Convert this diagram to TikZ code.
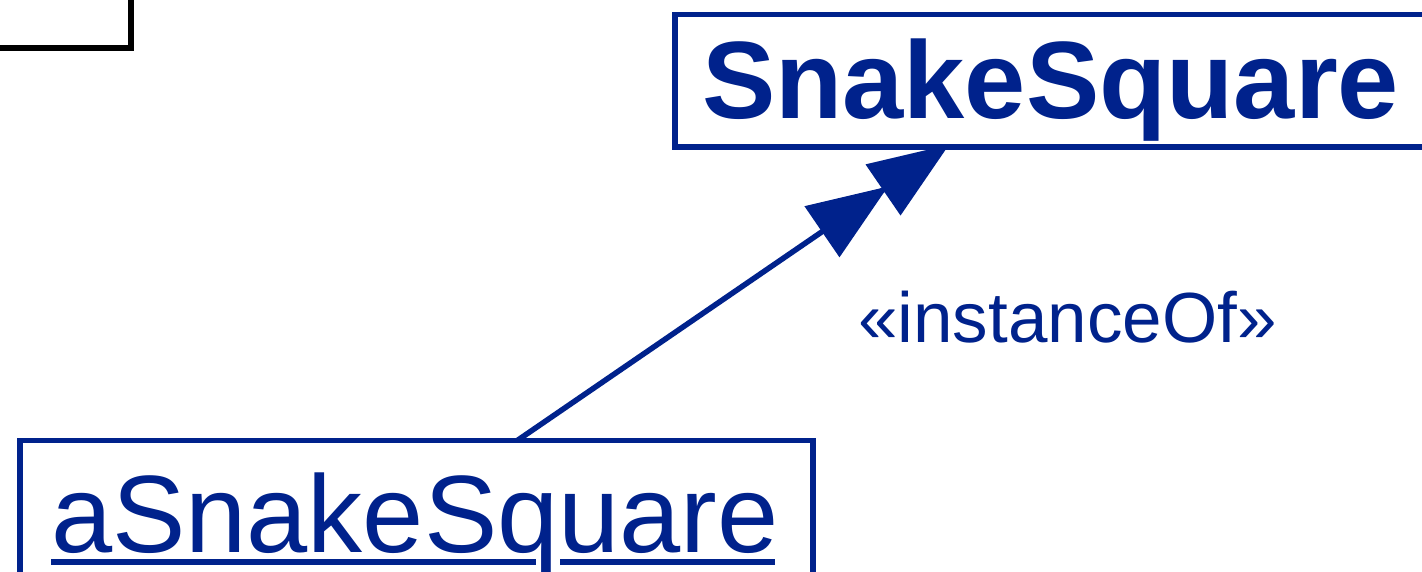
\documentclass[tikz,border=0pt]{standalone}
\usepackage{fontspec}
\setmainfont{Liberation Sans}
\usetikzlibrary{arrows.meta,calc}
\definecolor{umlblue}{RGB}{0,34,140}
\begin{document}
\begin{tikzpicture}[x=1pt,y=1pt,
  umlbox/.style={draw=umlblue, line width=5.5pt, text=umlblue, inner ysep=0pt, outer sep=0pt, align=left, anchor=base west},
  instarrow/.style={draw=umlblue, line width=5.5pt, shorten >=2pt, -{Triangle[length=80pt,width=62pt,line width=0pt,sep=-6pt]Triangle[length=80pt,width=62pt,line width=0pt,sep=-6pt]}},
  lbl/.style={text=umlblue, inner sep=0pt, anchor=base west, font=\fontsize{71}{80}\selectfont}]
\useasboundingbox (0,0) rectangle (1422,572);
\clip (0,0) rectangle (1422,572);
\fill[white] (0,0) rectangle (1422,572);
\node[draw=black, line width=6pt, outer sep=0pt, minimum width=300pt, minimum height=200pt, anchor=south east] (prev) at (130.8,524.2) {};
\node[umlbox, inner xsep=27pt, text width=770pt, text height=104.5pt, text depth=28pt, font=\fontsize{110}{120}\selectfont\bfseries] (cls) at (675,453) {SnakeSquare};
\node[umlbox, inner xsep=31pt, text width=731pt, text height=112.3pt, text depth=40pt, font=\fontsize{110}{120}\selectfont] (obj) at (20,19) {aSnakeSquare};
\draw[umlblue, line width=6pt] ($(obj.base west)+(31,-9)$) -- ($(obj.base west)+(516,-9)$);
\draw[umlblue, line width=6pt] ($(obj.base west)+(540,-9)$) -- ($(obj.base west)+(755,-9)$);
\draw[instarrow] (obj.north -| 517,0) -- (cls.south -| 945.7,0);
\node[lbl] (lab) at (858,229.3) {«instanceOf»};
\end{tikzpicture}
\end{document}
